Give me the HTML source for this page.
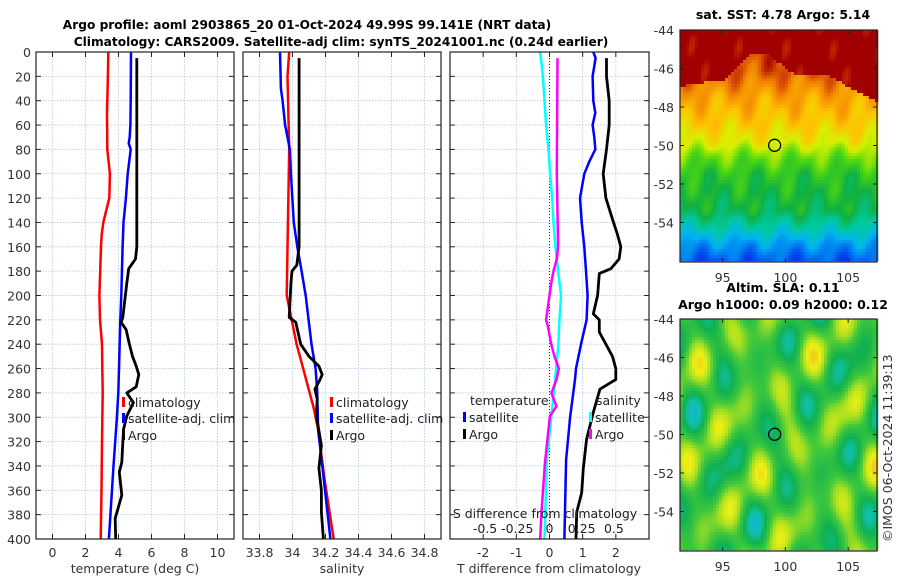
<!DOCTYPE html>
<html><head><meta charset="utf-8"><style>
html,body{margin:0;padding:0;background:#fff;}
svg{display:block;font-family:"DejaVu Sans","Liberation Sans",sans-serif;}
</style></head><body>
<svg id="c" width="900" height="580" viewBox="0 0 900 580" xmlns="http://www.w3.org/2000/svg">
<text x="307" y="29" font-size="12.2" font-weight="bold" text-anchor="middle" fill="#000">Argo profile: aoml 2903865_20 01-Oct-2024 49.99S 99.141E (NRT data)</text>
<text x="341" y="46" font-size="12.2" font-weight="bold" text-anchor="middle" fill="#000">Climatology: CARS2009. Satellite-adj clim: synTS_20241001.nc (0.24d earlier)</text>
<g id="panels"></g>
<g id="maps"></g>
</svg>
<script>
// ---------- data ----------
const depthTicks = [0,20,40,60,80,100,120,140,160,180,200,220,240,260,280,300,320,340,360,380,400];
const tTicks = [0,2,4,6,8,10];
const sTicks = [33.8,34,34.2,34.4,34.6,34.8];
const dTTicks = [-2,-1,0,1,2];
const dSTicks = [-0.5,-0.25,0,0.25,0.5];
const dSTickLabels = ["-0.5","-0.25","0","0.25","0.5"];

const climTdepth = [0,20,50,80,100,120,140,150,160,200,220,240,260,280,320,360,400];
const climT =      [3.38,3.36,3.3,3.32,3.48,3.44,3.08,2.98,2.94,2.84,2.88,3.0,3.02,3.04,3.0,2.97,2.92];
const satTdepth = [0,40,60,70,75,80,100,120,140,160,200,220,260,280,300,340,400];
const satT =      [4.76,4.74,4.72,4.68,4.62,4.74,4.56,4.45,4.3,4.25,4.17,4.11,4.03,3.99,3.9,3.7,3.42];
const argoTdepth = [5,100,160,170,178,190,218,222,228,240,250,258,265,275,280,288,299,310,337,345,364,383,400];
const argoT =      [5.11,5.11,5.11,5.03,4.62,4.5,4.26,4.16,4.46,4.66,4.85,5.07,5.23,5.07,4.5,4.9,4.5,4.3,4.2,4.05,4.2,3.8,3.83];

const climSdepth = [0,20,80,200,220,240,260,278,291,310,351,400];
const climS =      [33.98,33.97,33.98,33.965,33.995,34.025,34.065,34.1,34.126,34.155,34.194,34.25];
const satSdepth = [0,30,40,60,80,100,140,160,180,200,240,260,278,310,351,400];
const satS =      [33.924,33.93,33.94,33.955,33.984,33.99,34.008,34.029,34.055,34.08,34.115,34.14,34.15,34.155,34.19,34.23];
const argoSdepth = [5,160,175,180,190,218,222,240,250,258,265,269,277,285,299,323,342,360,378,400];
const argoS =      [34.04,34.04,34.026,33.997,33.99,33.98,34.02,34.05,34.1,34.16,34.18,34.167,34.136,34.15,34.145,34.175,34.16,34.175,34.175,34.187];

const dTsatDepth = [0,5,20,40,50,60,70,80,90,100,120,140,160,180,200,220,240,260,269,300,335,400];
const dTsat =      [1.32,1.39,1.3,1.32,1.38,1.3,1.35,1.38,1.2,1.05,0.92,0.97,1.05,1.1,1.15,1.12,0.95,0.8,0.77,0.62,0.5,0.45];
const dTargoDepth = [5,20,40,60,80,100,120,140,150,160,170,178,182,200,215,220,230,240,250,260,269,277,296,318,342,362,378,400];
const dTargo =      [1.72,1.72,1.8,1.8,1.72,1.62,1.7,1.93,2.05,2.15,2.1,1.85,1.5,1.45,1.32,1.5,1.5,1.7,1.9,2.0,2.0,1.52,1.32,1.12,1.02,0.97,0.82,0.8];
const dSsatDepth = [0,20,40,60,80,100,120,140,160,180,200,220,240,260,269,296,335,400];
const dSsat =      [-0.072,-0.051,-0.039,-0.026,-0.008,0.005,0.021,0.031,0.046,0.067,0.09,0.077,0.069,0.051,0.044,0.018,-0.021,-0.039];
const dSargoDepth = [5,100,160,170,180,190,210,220,225,240,250,260,269,280,291,299,338,378,400];
const dSargo =      [0.062,0.057,0.067,0.057,0.031,0.013,-0.013,-0.026,-0.013,0.013,0.039,0.072,0.054,0.015,0.054,0.003,-0.036,-0.062,-0.072];

const lonTicks = [95,100,105];
const latTicks = [-44,-46,-48,-50,-52,-54];

// ---------- helpers ----------
const NS = "http://www.w3.org/2000/svg";
function mk(tag, attrs, parent){ const e=document.createElementNS(NS,tag); for(const k in attrs) e.setAttribute(k,attrs[k]); parent.appendChild(e); return e; }
const PY0=52, PY1=539;
const yD = d => PY0 + (d/400)*(PY1-PY0);
function lin(d0,d1,r0,r1){ return v => r0 + (v-d0)/(d1-d0)*(r1-r0); }

const panelsG = document.getElementById('panels');
const GRID = "#b8c4e4";
const FS = 12.5;

function frame(name){
  const g = mk('g',{},panelsG);
  
  
  return g;
}
function gridAndAxes(g,x0,x1,xs,xticks,xlabels,leftLabels){
  depthTicks.forEach(d=>{
    const y=yD(d);
    if(d>0&&d<400){ const l=mk('line',{x1:x0,x2:x1,y1:y,y2:y,stroke:GRID,'stroke-width':0.8,'stroke-dasharray':'1.5,1.5'},g);
        }
    mk('line',{x1:x0,x2:x0+5,y1:y,y2:y,stroke:'#222','stroke-width':1},g);
    mk('line',{x1:x1-5,x2:x1,y1:y,y2:y,stroke:'#222','stroke-width':1},g);
    if(leftLabels){
      const t=mk('text',{x:x0-5,y:y+5,'font-size':FS,'text-anchor':'end',fill:'#333'},g); t.textContent=d;
       
    }
  });
  xticks.forEach((v,i)=>{
    const x=xs(v);
    const l=mk('line',{x1:x,x2:x,y1:PY0,y2:PY1,stroke:GRID,'stroke-width':0.8,'stroke-dasharray':'1.5,1.5'},g);
     
    mk('line',{x1:x,x2:x,y1:PY0,y2:PY0+5,stroke:'#222','stroke-width':1},g);
    mk('line',{x1:x,x2:x,y1:PY1-5,y2:PY1,stroke:'#222','stroke-width':1},g);
    if(xlabels){
      const t=mk('text',{x:x,y:557,'font-size':FS,'text-anchor':'middle',fill:'#333'},g); t.textContent=xlabels[i];
       
    }
  });
}
function border(g,x0,x1){
  mk('rect',{x:x0,y:PY0,width:x1-x0,height:PY1-PY0,fill:'none',stroke:'#222','stroke-width':1.2},g);
}
function series(g,xs,depths,vals,color,w,name){
  const pts=depths.map((d,i)=>xs(vals[i]).toFixed(1)+','+yD(d).toFixed(1)).join(' ');
  const p=mk('polyline',{points:pts,fill:'none',stroke:color,'stroke-width':w,'stroke-linejoin':'round'},g);
  
  
}
function legendEntry(g,x,y,color,label){
  const r=mk('rect',{x:x,y:y-10,width:3,height:10,fill:color},g);
   
  const t=mk('text',{x:x+6,y:y,'font-size':FS,fill:'#222'},g); t.textContent=label;
   
}
function clipRect(id,x0,x1){
  const defs = mk('defs',{},panelsG);
  const cp = mk('clipPath',{id:id},defs);
  mk('rect',{x:x0,y:PY0,width:x1-x0,height:PY1-PY0},cp);
}

// Panel 1: temperature
{
  const x0=36,x1=234; const xs=lin(-1,11,x0,x1);
  const g=frame('temperature-panel');
  gridAndAxes(g,x0,x1,xs,tTicks,tTicks.map(String),true);
  clipRect('cp1',x0,x1);
  const s=mk('g',{'clip-path':'url(#cp1)'},g);
  series(s,xs,climTdepth,climT,'#ff0000',2.5,'climatology-temperature-line');
  series(s,xs,satTdepth,satT,'#0000ff',2.5,'satellite-temperature-line');
  series(s,xs,argoTdepth,argoT,'#000000',2.8,'argo-temperature-line');
  border(g,x0,x1);
  legendEntry(g,122,407,'#ff0000','climatology');
  legendEntry(g,122,423,'#0000ff','satellite-adj. clim');
  legendEntry(g,122,440,'#000000','Argo');
  const t=mk('text',{x:135,y:573,'font-size':FS,'text-anchor':'middle',fill:'#333'},g); t.textContent='temperature (deg C)';
   
}
// Panel 2: salinity
{
  const x0=243,x1=441; const xs=lin(33.7,34.9,x0,x1);
  const g=frame('salinity-panel');
  gridAndAxes(g,x0,x1,xs,sTicks,["33.8","34","34.2","34.4","34.6","34.8"],false);
  clipRect('cp2',x0,x1);
  const s=mk('g',{'clip-path':'url(#cp2)'},g);
  series(s,xs,climSdepth,climS,'#ff0000',2.5,'climatology-salinity-line');
  series(s,xs,satSdepth,satS,'#0000ff',2.5,'satellite-salinity-line');
  series(s,xs,argoSdepth,argoS,'#000000',2.8,'argo-salinity-line');
  border(g,x0,x1);
  legendEntry(g,330,407,'#ff0000','climatology');
  legendEntry(g,330,423,'#0000ff','satellite-adj. clim');
  legendEntry(g,330,440,'#000000','Argo');
  const t=mk('text',{x:342,y:573,'font-size':FS,'text-anchor':'middle',fill:'#333'},g); t.textContent='salinity';
   
}
// Panel 3: differences
{
  const x0=450,x1=649; const xs=lin(-3,3,x0,x1); const xsS=lin(-0.772,0.772,x0,x1);
  const g=frame('difference-panel');
  gridAndAxes(g,x0,x1,xs,dTTicks,dTTicks.map(String),false);
  const z=mk('line',{x1:xs(0),x2:xs(0),y1:PY0,y2:PY1,stroke:'#333','stroke-width':1,'stroke-dasharray':'1,2'},g);
   
  clipRect('cp3',x0,x1);
  const s=mk('g',{'clip-path':'url(#cp3)'},g);
  series(s,xsS,dSsatDepth,dSsat,'#00ffff',2.5,'satellite-salinity-diff-line');
  series(s,xsS,dSargoDepth,dSargo,'#ff00ff',2.5,'argo-salinity-diff-line');
  series(s,xs,dTsatDepth,dTsat,'#0000ff',2.5,'satellite-temperature-diff-line');
  series(s,xs,dTargoDepth,dTargo,'#000000',2.8,'argo-temperature-diff-line');
  border(g,x0,x1);
  const tt=mk('text',{x:470,y:405,'font-size':FS,fill:'#222'},g); tt.textContent='temperature';
   
  legendEntry(g,463,422,'#0000ff','satellite');
  legendEntry(g,463,439,'#000000','Argo');
  const ts=mk('text',{x:596,y:405,'font-size':FS,fill:'#222'},g); ts.textContent='salinity';
   
  legendEntry(g,589,422,'#00ffff','satellite');
  legendEntry(g,589,439,'#ff00ff','Argo');
  const sl=mk('text',{x:545,y:518,'font-size':FS,'text-anchor':'middle',fill:'#222'},g); sl.textContent='S difference from climatology';
   
  dSTicks.forEach((v,i)=>{
    const t=mk('text',{x:xsS(v),y:533,'font-size':FS,'text-anchor':'middle',fill:'#222'},g); t.textContent=dSTickLabels[i];
     
  });
  const t=mk('text',{x:549,y:573,'font-size':FS,'text-anchor':'middle',fill:'#333'},g); t.textContent='T difference from climatology';
   
}

// ---------- maps ----------
const mapsG=document.getElementById('maps');
function hex2rgb(h){return [1,3,5].map(i=>parseInt(h.substr(i,2),16));}
function cmap(stops,v){
  if(v<=stops[0][0]) return stops[0][1];
  for(let i=1;i<stops.length;i++){ if(v<=stops[i][0]){ const a=stops[i-1],b=stops[i]; const f=(v-a[0])/(b[0]-a[0]);
    const c1=hex2rgb(a[1]),c2=hex2rgb(b[1]); return 'rgb('+c1.map((c,k)=>Math.round(c+(c2[k]-c)*f)).join(',')+')'; } }
  return stops[stops.length-1][1];
}
const jet=[[0,'#0010c0'],[0.12,'#0050f0'],[0.25,'#00b4f0'],[0.36,'#00c8a0'],[0.46,'#10b040'],[0.56,'#50d810'],[0.66,'#d8f000'],[0.76,'#ffc000'],[0.86,'#f08000'],[0.93,'#c83000'],[0.97,'#a00000']];
const sla=[[-1.2,'#10b4e0'],[-0.8,'#10c0a8'],[-0.45,'#10b050'],[0,'#40c83c'],[0.35,'#a8e020'],[0.7,'#f0f014'],[1.05,'#f0b020']];
function drawMap(x0,y0,w,h,fieldFn,stops,name,title1,title2){
  const g=mk('g',{},mapsG);
  
  
  const lonS=lin(91.6,107.3,x0,x0+w), latS=lin(-44,-56,y0,y0+231);
  const step=3;
  for(let y=y0;y<y0+h;y+=step){ for(let x=x0;x<x0+w;x+=step){
    const lon=91.6+(x-x0)/w*15.7, lat=-44-(y-y0)/231*12;
    mk('rect',{x:x,y:y,width:step+0.3,height:step+0.3,fill:cmap(stops,fieldFn(lon,lat))},g);
  }}
  mk('rect',{x:x0,y:y0,width:w,height:232,fill:'none',stroke:'#222','stroke-width':1.2},g);
  latTicks.forEach(v=>{ const y=latS(v);
    mk('line',{x1:x0,x2:x0+4,y1:y,y2:y,stroke:'#222'},g); mk('line',{x1:x0+w-4,x2:x0+w,y1:y,y2:y,stroke:'#222'},g);
    const t=mk('text',{x:x0-6,y:y+5,'font-size':FS,'text-anchor':'end',fill:'#333'},g); t.textContent=v;
      });
  lonTicks.forEach(v=>{ const x=lonS(v);
    mk('line',{x1:x,x2:x,y1:y0,y2:y0+4,stroke:'#222'},g); mk('line',{x1:x,x2:x,y1:y0+228,y2:y0+232,stroke:'#222'},g);
    const t=mk('text',{x:x,y:y0+252,'font-size':FS,'text-anchor':'middle',fill:'#333'},g); t.textContent=v;
      });
  const c=mk('circle',{cx:lonS(99.141),cy:latS(-49.99),r:6,fill:'none',stroke:'#000','stroke-width':1.3},g);
   
  const t1=mk('text',{x:783,y:title2?y0-27:y0-11,'font-size':FS,'font-weight':'bold','text-anchor':'middle',fill:'#000'},g); t1.textContent=title1;
   
  if(title2){ const t2=mk('text',{x:783,y:y0-10,'font-size':FS,'font-weight':'bold','text-anchor':'middle',fill:'#000'},g); t2.textContent=title2;
      }
}
function redBoundary(lon){
  if(lon<95) return -46.8+ (lon-92)*0.1;
  if(lon<97) return -46.5+(lon-95)*0.65;
  if(lon<98.5) return -45.2;
  if(lon<100.5) return -45.2-(lon-98.5)*0.5;
  if(lon<103) return -46.2;
  return -46.2-(lon-103)*0.35;
}
const sstLatKnots=[-46,-47.5,-48.8,-49.8,-50.5,-51.5,-53.3,-54.2,-55,-56];
const sstLatVals =[0.9,0.8,0.74,0.67,0.58,0.5,0.45,0.34,0.22,0.12];
function latProfile(lat){
  if(lat>=sstLatKnots[0]) return sstLatVals[0];
  for(let i=1;i<sstLatKnots.length;i++){ if(lat>=sstLatKnots[i]){ const f=(lat-sstLatKnots[i-1])/(sstLatKnots[i]-sstLatKnots[i-1]); return sstLatVals[i-1]+f*(sstLatVals[i]-sstLatVals[i-1]); } }
  return sstLatVals[sstLatVals.length-1];
}
function sstField(lon,lat){
  const B=redBoundary(lon);
  let v = lat>B ? 1.0 : latProfile(lat);
  v += 0.035*Math.sin(lon*1.7+lat*1.3) + 0.025*Math.cos(lon*3.3-lat*2.1);
  return v;
}
function slaField(lon,lat){
  return 0.4*Math.sin(lon*1.3+0.5)*Math.cos(lat*1.1+0.3) + 0.32*Math.sin(lon*0.8-lat*1.5+2)
       + 0.25*Math.cos(lon*2.1+lat*0.7) - 0.05;
}
drawMap(680,30,197,229,sstField,jet,'sst-map','sat. SST: 4.78 Argo: 5.14',null);
drawMap(680,319,197,229,slaField,sla,'sla-map','Altim. SLA: 0.11','Argo h1000: 0.09 h2000: 0.12');
const cr=mk('text',{x:0,y:0,'font-size':FS,fill:'#333',transform:'translate(892,542) rotate(-90)'},mapsG);
cr.textContent='©IMOS 06-Oct-2024 11:39:13';


</script>
</body></html>
